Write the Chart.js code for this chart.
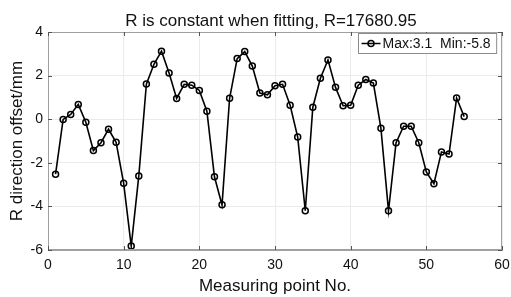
<!DOCTYPE html>
<html>
<head>
<meta charset="utf-8">
<script src="https://cdn.jsdelivr.net/npm/chart.js@4"></script>
<style>
  html, body { margin: 0; padding: 0; background: #fff; }
  #wrap { width: 511px; height: 297px; }
</style>
</head>
<body>
<div id="wrap"><canvas id="chart" width="511" height="297"></canvas></div>
<script>
// measuring points and radial offsets
const pointNo = [1,2,3,4,5,6,7,8,9,10,11,12,13,14,15,16,17,18,19,20,
                 21,22,23,24,25,26,27,28,29,30,31,32,33,34,35,36,37,38,39,40,
                 41,42,43,44,45,46,47,48,49,50,51,52,53,54,55]
const offset = [-2.52, -0.01, 0.22, 0.68, -0.14, -1.44, -1.08, -0.46, -1.06, -2.94,
                -5.82, -2.6, 1.61, 2.52, 3.12, 2.12, 0.95, 1.6, 1.56, 1.32,
                0.37, -2.64, -3.93, 0.96, 2.78, 3.1, 2.44, 1.2, 1.12, 1.54,
                1.6, 0.64, -0.82, -4.2, 0.55, 1.88, 2.72, 1.46, 0.62, 0.64,
                1.56, 1.82, 1.66, -0.42, -4.2, -1.08, -0.32, -0.32, -1.08, -2.42,
                -2.96, -1.5, -1.6, 0.97, 0.12]
const xTicks = [0, 10, 20, 30, 40, 50, 60]
const yTicks = [-6, -4, -2, 0, 2, 4]
const seriesLabel = 'Max:3.1  Min:-5.8'
const chartTitle = 'R is constant when fitting, R=17680.95'

const FONT = 'Arial, "Liberation Sans", sans-serif'
const frameColor = '#a0a0a0'

// matlab style axes box, inward ticks, title and legend
const matlabFrame = {
    id: 'matlabFrame',
    afterDraw(chart) {
        const {ctx, chartArea: a, scales} = chart
        ctx.save()
        ctx.strokeStyle = frameColor
        ctx.lineWidth = 1
        ctx.strokeRect(Math.round(a.left) + 0.5, Math.round(a.top) + 0.5,
            Math.round(a.right - a.left) - 1, Math.round(a.bottom - a.top) - 1)
        ctx.strokeStyle = '#555'
        ctx.beginPath()
        xTicks.forEach(t => {
            const x = Math.round(scales.x.getPixelForValue(t)) + 0.5
            ctx.moveTo(x, a.bottom); ctx.lineTo(x, a.bottom - 4)
            ctx.moveTo(x, a.top); ctx.lineTo(x, a.top + 4)
        })
        yTicks.forEach(t => {
            const y = Math.round(scales.y.getPixelForValue(t)) + 0.5
            ctx.moveTo(a.left, y); ctx.lineTo(a.left + 4, y)
            ctx.moveTo(a.right, y); ctx.lineTo(a.right - 4, y)
        })
        ctx.stroke()

        // title
        ctx.fillStyle = '#111'
        ctx.font = '17px ' + FONT
        ctx.textAlign = 'center'
        ctx.textBaseline = 'middle'
        ctx.fillText(chartTitle, (a.left + a.right) / 2 - 4, 21)

        // legend inside top right
        ctx.font = '14px ' + FONT
        const tw = ctx.measureText(seriesLabel).width
        const bw = tw + 30, bh = 20
        const bx = Math.round(a.right - 6 - bw) + 0.5, by = Math.round(a.top) + 1.5
        ctx.fillStyle = '#fff'
        ctx.fillRect(bx, by, bw, bh)
        ctx.strokeStyle = '#8c8c8c'
        ctx.strokeRect(bx, by, bw, bh)
        const ly = by + bh / 2
        ctx.strokeStyle = '#000'
        ctx.lineWidth = 1.5
        ctx.beginPath()
        ctx.moveTo(bx + 3, ly); ctx.lineTo(bx + 22, ly)
        ctx.stroke()
        ctx.beginPath()
        ctx.arc(bx + 12.5, ly, 3, 0, Math.PI * 2)
        ctx.stroke()
        ctx.fillStyle = '#111'
        ctx.textAlign = 'left'
        ctx.fillText(seriesLabel, bx + 24, ly + 1)
        ctx.restore()
    }
}

new Chart(document.getElementById('chart'), {
    type: 'line',
    data: {
        datasets: [{
            label: seriesLabel,
            data: pointNo.map((n, i) => ({x: n, y: offset[i]})),
            borderColor: '#000',
            borderWidth: 1.6,
            pointRadius: 3,
            pointBorderWidth: 1.5,
            pointBorderColor: '#000',
            pointBackgroundColor: 'rgba(255,255,255,0)',
            tension: 0
        }]
    },
    options: {
        responsive: false,
        animation: false,
        layout: {padding: {top: 32, right: 9, left: 0, bottom: 0}},
        plugins: {
            legend: {display: false},
            title: {display: false},
            tooltip: {enabled: false}
        },
        scales: {
            x: {
                type: 'linear',
                min: 0,
                max: 60,
                afterBuildTicks: s => { s.ticks = xTicks.map(v => ({value: v})) },
                afterFit: s => { s.height = 47; s.paddingLeft = 0; s.paddingRight = 0 },
                grid: {color: '#ebebeb', drawTicks: false},
                border: {color: frameColor},
                ticks: {color: '#111', padding: 7, font: {family: FONT, size: 14}, maxRotation: 0},
                title: {display: true, text: 'Measuring point No.', color: '#111',
                        padding: 0, font: {family: FONT, size: 17}}
            },
            y: {
                min: -6,
                max: 4,
                afterBuildTicks: s => { s.ticks = yTicks.map(v => ({value: v})) },
                afterFit: s => { s.width = 48; s.paddingTop = 0; s.paddingBottom = 0 },
                grid: {color: '#ebebeb', drawTicks: false},
                border: {color: frameColor},
                ticks: {color: '#111', padding: 5, font: {family: FONT, size: 14}},
                title: {display: true, text: 'R direction offset/mm', color: '#111',
                        padding: {top: 7, bottom: 0}, font: {family: FONT, size: 17}}
            }
        }
    },
    plugins: [matlabFrame]
})
</script>
</body>
</html>
